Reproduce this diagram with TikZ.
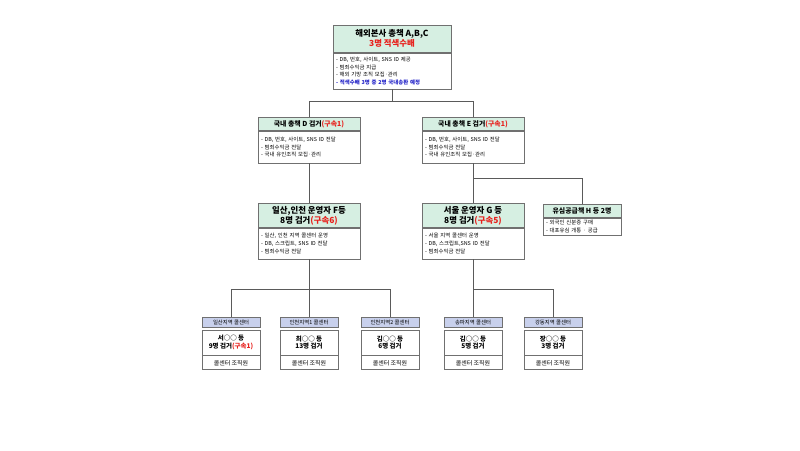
\documentclass[tikz,border=0pt]{standalone}
\usepackage{fontspec}
\setmainfont{Noto Sans CJK KR}
\usetikzlibrary{positioning}
\definecolor{mint}{HTML}{D6EFE2}
\definecolor{lav}{HTML}{C8D0EC}
\definecolor{edgegray}{HTML}{707070}
\definecolor{redtxt}{HTML}{E8201C}
\definecolor{bluetxt}{HTML}{2323C8}
\newcommand{\gs}[1]{\textcolor{redtxt}{#1}}

\begin{document}
\begin{tikzpicture}[x=1pt,y=-1pt,line width=0.7pt,node distance=0pt]
  \tikzset{hd/.style={draw=edgegray,fill=mint,inner sep=0pt,align=center,anchor=north,font=\fontsize{6.9}{8.5}\selectfont\bfseries},
           bighd/.style={hd,font=\fontsize{8.4}{10}\selectfont\bfseries},
           bd/.style={draw=edgegray,fill=white,inner xsep=3pt,inner ysep=0pt,align=left,font=\fontsize{5.4}{7.8}\selectfont},
           ch/.style={draw=edgegray,fill=lav,inner sep=0pt,minimum width=58,minimum height=10,anchor=north,font=\fontsize{5.4}{6}\selectfont},
           cb/.style={draw=edgegray,fill=white,inner sep=0pt,minimum width=58,minimum height=25,align=center,font=\fontsize{6.5}{7.6}\selectfont\bfseries},
           cf/.style={draw=edgegray,fill=white,inner sep=0pt,minimum width=58,minimum height=14,font=\fontsize{6}{7}\selectfont},
           conn/.style={draw=edgegray!80!black,line width=0.8pt}}
  \useasboundingbox (0,0) rectangle (800,450);
  % top level
  \node[bighd,minimum width=118,minimum height=27] (topH) at (392,25) {해외본사 총책 A,B,C\\\gs{3명 적색수배}};
  \node[bd,text width=112,minimum height=36,below=of topH] (topB) {- DB, 번호, 사이트, SNS ID 제공\\- 범죄수익금 지급\\- 해외 기망 조직 모집·관리\\{\color{bluetxt}\bfseries - 적색수배 3명 중 2명 국내송환 예정}};
  % domestic heads
  \node[hd,minimum width=102,minimum height=13] (dH) at (309,117) {국내 총책 D 검거\gs{(구속1)}};
  \node[bd,text width=96,minimum height=32,below=of dH] (dB) {- DB, 번호, 사이트, SNS ID 전달\\- 범죄수익금 전달\\- 국내 유인조직 모집·관리};
  \node[hd,minimum width=102,minimum height=13] (eH) at (473,117) {국내 총책 E 검거\gs{(구속1)}};
  \node[bd,text width=96,minimum height=32,below=of eH] (eB) {- DB, 번호, 사이트, SNS ID 전달\\- 범죄수익금 전달\\- 국내 유인조직 모집·관리};
  % operators
  \node[bighd,minimum width=102,minimum height=24] (fH) at (309,203) {일산,인천 운영자 F등\\8명 검거\gs{(구속6)}};
  \node[bd,text width=96,minimum height=31,below=of fH] (fB) {- 일산, 인천 지역 콜센터 운영\\- DB, 스크립트, SNS ID 전달\\- 범죄수익금 전달};
  \node[bighd,minimum width=102,minimum height=24] (gH) at (473,203) {서울 운영자 G 등\\8명 검거\gs{(구속5)}};
  \node[bd,text width=96,minimum height=31,below=of gH] (gB) {- 서울 지역 콜센터 운영\\- DB, 스크립트,SNS ID 전달\\- 범죄수익금 전달};
  \node[hd,minimum width=78,minimum height=13] (hH) at (582,204) {유심공급책 H 등 2명};
  \node[bd,text width=72,minimum height=17,below=of hH] (hB) {- 외국인 신분증 구매\\- 대포유심 개통 · 공급};
  % call centers
  \node[ch] (c1H) at (231,317) {일산지역 콜센터};
  \node[cb,below=2pt of c1H] (c1B) {서○○ 등\\9명 검거\gs{(구속1)}};
  \node[cf,below=of c1B] (c1F) {콜센터 조직원};
  \node[ch] (c2H) at (309,317) {인천지역1 콜센터};
  \node[cb,below=2pt of c2H] (c2B) {최○○ 등\\13명 검거};
  \node[cf,below=of c2B] (c2F) {콜센터 조직원};
  \node[ch] (c3H) at (390,317) {인천지역2 콜센터};
  \node[cb,below=2pt of c3H] (c3B) {김○○ 등\\6명 검거};
  \node[cf,below=of c3B] (c3F) {콜센터 조직원};
  \node[ch] (c4H) at (473,317) {송파지역 콜센터};
  \node[cb,below=2pt of c4H] (c4B) {김○○ 등\\5명 검거};
  \node[cf,below=of c4B] (c4F) {콜센터 조직원};
  \node[ch] (c5H) at (553,317) {강동지역 콜센터};
  \node[cb,below=2pt of c5H] (c5B) {장○○ 등\\3명 검거};
  \node[cf,below=of c5B] (c5F) {콜센터 조직원};
  % connectors
  \draw[conn] (topB.south) -- ++(0,12) -| (dH.north);
  \draw[conn] (topB.south) -- ++(0,12) -| (eH.north);
  \draw[conn] (dB.south) -- (fH.north);
  \draw[conn] (eB.south) -- (gH.north);
  \draw[conn] (eB.south) -- ++(0,15) -| (hH.north);
  \draw[conn] (fB.south) -- ++(0,30) -| (c1H.north);
  \draw[conn] (fB.south) -- (c2H.north);
  \draw[conn] (fB.south) -- ++(0,30) -| (c3H.north);
  \draw[conn] (gB.south) -- (c4H.north);
  \draw[conn] (gB.south) -- ++(0,30) -| (c5H.north);
\end{tikzpicture}
\end{document}
